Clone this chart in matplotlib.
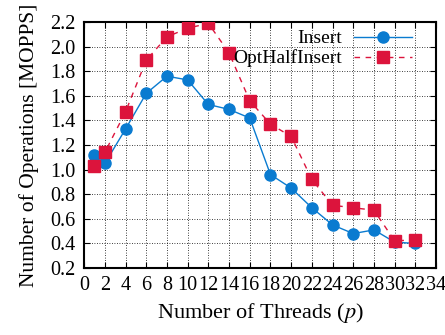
import matplotlib
matplotlib.use('Agg')
import matplotlib.pyplot as plt

# Thread counts and throughput (MOPPS)
threads = [1, 2, 4, 6, 8, 10, 12, 14, 16, 18, 20, 22, 24, 26, 28, 30, 32]
insert = [1.12, 1.05, 1.33, 1.62, 1.76, 1.73, 1.53, 1.49, 1.42, 0.96, 0.85,
          0.69, 0.55, 0.48, 0.51, 0.41, 0.40]
opt_half_insert = [1.03, 1.14, 1.47, 1.89, 2.08, 2.15, 2.19, 1.95, 1.56, 1.37,
                   1.27, 0.92, 0.71, 0.69, 0.67, 0.42, 0.43]

x_ticks = list(range(0, 35, 2))
y_ticks = [0.2, 0.4, 0.6, 0.8, 1.0, 1.2, 1.4, 1.6, 1.8, 2.0, 2.2]

plt.rcParams['font.family'] = ['Liberation Serif', 'DejaVu Serif']
plt.rcParams['mathtext.fontset'] = 'stix'

fig = plt.figure(figsize=(4.45, 3.35), dpi=100)
ax = fig.add_axes([0.189, 0.2, 0.791, 0.734])

ax.plot(threads, insert, color='#0a7bd0', marker='o', markersize=8,
        linewidth=1.0, label='Insert', zorder=3)
ax.plot(threads, opt_half_insert, color='#dc143c', marker='s', markersize=8,
        linewidth=1.0, linestyle=(0, (4, 4)), label='OptHalfInsert', zorder=3)

ax.set_xlim(0, 34)
ax.set_ylim(0.2, 2.2)
ax.set_xticks(x_ticks)
ax.set_yticks(y_ticks)
ax.set_yticklabels(['%.1f' % v for v in y_ticks])
ax.tick_params(direction='in', top=True, right=True, labelsize=14.5, length=4, pad=6)
ax.grid(True, color='black', linestyle=(0, (1, 2)), linewidth=0.6)
for s in ax.spines.values():
    s.set_linewidth(1.5)

ax.set_xlabel('Number of Threads ($p$)', fontsize=16, labelpad=4)
ax.set_ylabel('Number of Operations [MOPPS]', fontsize=15.5, labelpad=8)

leg = ax.legend(loc='upper right', bbox_to_anchor=(0.955, 1.0), frameon=False,
                markerfirst=False, fontsize=14, handlelength=3.0,
                borderaxespad=0.0, labelspacing=0.1, handletextpad=0.6)
for t in leg.get_texts():
    t.set_ha('right')

fig.savefig('out.png', dpi=100)
